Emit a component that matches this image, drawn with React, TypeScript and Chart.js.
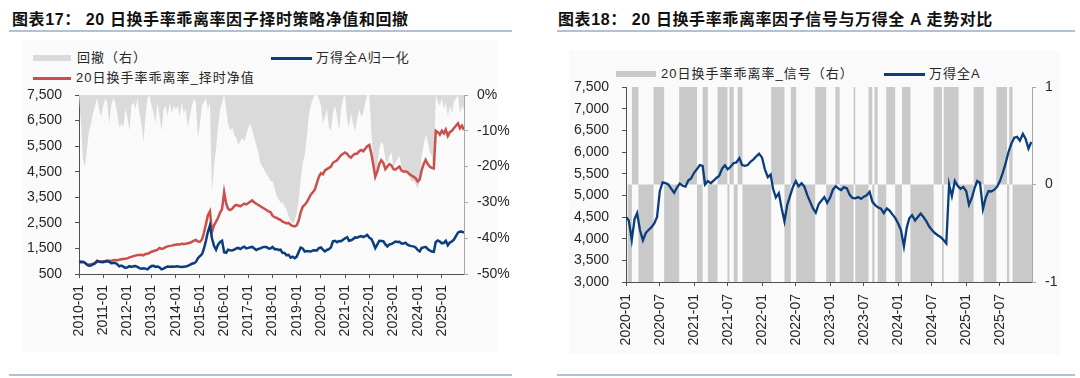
import React, { useEffect, useRef } from "react";
import { Chart, registerables } from "chart.js";
Chart.register(...registerables);

const FONT = "'Liberation Sans', 'Noto Sans CJK SC', Arial, sans-serif";
const BLUE = "#0a3d7e";
const RED = "#c9504b";
const DD_GRAY = "#dadada";
const SIG_GRAY = "#c9c9c9";
const AXIS_DARK = "#505050";
const AXIS_LIGHT = "#a8a8a8";
const TICK_COLOR = "#262626";
const RULE = "#b3c1d3";

// ---------- Left chart data (monthly, starting 2010-01) ----------
const leftStartYear = 2010;
const leftTickLabels = ["2010-01", "2011-01", "2012-01", "2013-01", "2014-01", "2015-01", "2016-01", "2017-01", "2018-01", "2019-01", "2020-01", "2021-01", "2022-01", "2023-01", "2024-01", "2025-01"];

const windANormalized = [
  1000, 960, 980, 940, 860, 820, 830, 880, 920, 1020, 980, 970,
  960, 990, 1000, 980, 920, 930, 930, 880, 800, 830, 790, 740,
  760, 810, 780, 800, 810, 780, 730, 710, 720, 710, 680, 760,
  810, 820, 780, 790, 760, 680, 710, 760, 790, 780, 790, 780,
  790, 800, 780, 770, 780, 790, 820, 860, 900, 920, 970, 1120,
  1200, 1280, 1480, 1800, 2150, 2400, 1900, 1600, 1450, 1650, 1750, 1800,
  1350, 1330, 1450, 1430, 1420, 1450, 1500, 1520, 1480, 1530, 1570, 1500,
  1520, 1550, 1560, 1500, 1440, 1480, 1500, 1540, 1560, 1560, 1500, 1500,
  1560, 1470, 1480, 1440, 1450, 1330, 1320, 1230, 1250, 1140, 1180, 1120,
  1180, 1370, 1530, 1500, 1380, 1400, 1390, 1380, 1420, 1430, 1420, 1510,
  1535, 1450, 1380, 1440, 1470, 1540, 1780, 1800, 1740, 1790, 1780, 1840,
  1900, 1940, 1800, 1820, 1860, 1930, 1920, 1960, 1980, 1940, 1980, 2030,
  1920, 1870, 1720, 1510, 1650, 1800, 1790, 1780, 1660, 1580, 1660, 1670,
  1720, 1770, 1750, 1760, 1690, 1690, 1720, 1650, 1610, 1590, 1580, 1540,
  1440, 1380, 1520, 1540, 1560, 1480, 1420, 1380, 1370, 1750, 1810, 1770,
  1700, 1720, 1800, 1620, 1730, 1770, 1840, 1980, 2120, 2160, 2150, 2120,
];

const strategyNav = [
  1000, 960, 980, 930, 880, 860, 880, 900, 930, 980, 1000, 990,
  1000, 1010, 1030, 1020, 1010, 1040, 1050, 1040, 1060, 1080, 1090, 1100,
  1110, 1150, 1170, 1200, 1220, 1240, 1240, 1250, 1230, 1280, 1290, 1330,
  1370, 1400, 1420, 1450, 1520, 1480, 1500, 1550, 1580, 1600, 1610, 1630,
  1640, 1660, 1650, 1680, 1670, 1680, 1700, 1720, 1760, 1800, 1830, 1770,
  1760, 1850, 2100, 2450, 2800, 2950, 2150, 2400, 2550, 2700, 2900, 3050,
  3700, 3250, 3050, 3000, 3050, 3150, 3200, 3180, 3150, 3200, 3250, 3220,
  3280, 3330, 3380, 3300, 3250, 3200, 3150, 3100, 3050, 3000, 2950, 2920,
  2780, 2720, 2700, 2650, 2620, 2550, 2520, 2480, 2500, 2420, 2380, 2360,
  2400, 2600, 2900, 3130, 3200, 3300, 3450, 3600, 3700, 3800, 4050, 4300,
  4440, 4400, 4550, 4600, 4650, 4700, 4850, 4900, 4950, 5050, 5150, 5200,
  5250, 5200, 5100, 5050, 5150, 5200, 5200, 5300, 5350, 5300, 5400, 5500,
  5550, 5200, 4800, 4300, 4500, 4800, 4950, 4850, 4600, 4700, 4800, 4750,
  4600, 4580, 4650, 4700, 4550, 4500, 4520, 4480, 4400, 4350, 4300, 4250,
  4120, 4200, 4550, 4800, 4960, 4800, 4700, 4650, 4630, 6100, 6050, 5950,
  6100, 6000, 6150, 5900, 6050, 6100, 6200, 6300, 6390, 6200, 6300, 6130,
];

const drawdownPct = [
  0, -8, -18, -20, -15, -10, -8, -5, -3, -1, -4, -6,
  -3, -1, -2, -8, -3, -1, -2, -5, -9, -8, -9, -4,
  -6, -10, -3, -2, -4, -1, -5, -8, -13, -6, -1, 0,
  -3, -5, -8, -2, -6, -10, -4, -3, -6, -2, -5, -3,
  -4, -3, -6, -2, -5, -4, -9, -6, -3, -1, -2, -12,
  -8, -3, -2, -1, -4, -2, -27, -20, -15, -9, -4, -2,
  0, -4, -8, -10, -9, -11, -12, -14, -13, -12, -13, -11,
  -9, -8, -10, -12, -14, -16, -19, -20, -21, -22, -23, -24,
  -24, -26, -28, -29, -30, -30, -31, -32, -34, -35, -36, -35,
  -33, -29, -24, -19, -17, -12, -6, -3, -1, 0, 0, -1,
  -3, -8, -6, -4, -9, -10, -5, -3, -6, -10, -4, -1,
  0, -7, -9, -5, -8, -10, -7, -4, -6, -5, -2, 0,
  0, -10, -18, -24, -20, -15, -13, -14, -18, -19, -17, -16,
  -20, -19, -18, -17, -20, -21, -22, -22, -23, -24, -24, -25,
  -26, -24, -17, -14, -11, -13, -16, -17, -21, 0, -2, -3,
  -1, -4, -2, -6, -3, -5, -2, -1, 0, -5, -3, -4,
];

// ---------- Right chart data (semi-monthly, starting 2020-01) ----------
const rightStartYear = 2020;
const rightTickLabels = ["2020-01", "2020-07", "2021-01", "2021-07", "2022-01", "2022-07", "2023-01", "2023-07", "2024-01", "2024-07", "2025-01", "2025-07"];

const windAIndex = [
  4500, 4420, 3970, 4450, 4590, 4200, 3960, 4130, 4200, 4260, 4350, 4500, 5100, 5300, 5280, 5250, 5150, 5060, 5180, 5270, 5220, 5200, 5340, 5390,
  5520, 5600, 5700, 5680, 5250, 5330, 5280, 5340, 5400, 5450, 5620, 5690, 5600, 5660, 5740, 5760, 5860, 5700, 5680, 5700, 5780, 5830, 5900, 5960,
  5870, 5600, 5420, 5480, 5150, 4950, 5050, 4700, 4400, 4780, 5000, 5200, 5330, 5210, 5280, 5200, 5000, 4850, 4700, 4600, 4800, 4880, 4960, 4830,
  4950, 5130, 5210, 5150, 5120, 5190, 5160, 5010, 4940, 4930, 4960, 4920, 4970, 5000, 5080, 4850, 4770, 4720, 4690, 4590, 4700, 4650, 4560, 4480,
  4350, 4200, 3820, 4250, 4470, 4540, 4420, 4500, 4580, 4500, 4400, 4280, 4200, 4130, 4080, 4040, 3970, 3890, 5250, 4980, 5330, 5220, 5150, 5190,
  5100, 4780, 4950, 5180, 5330, 5290, 4680, 4950, 5100, 5090, 5130, 5200, 5330, 5520, 5750, 6000, 6200, 6330, 6350, 6260, 6420, 6300, 6080, 6230,
];

const signalDates = [
  "2020-01-09", "2020-02-02", "2020-03-08", "2020-05-28", "2020-07-24", "2020-10-13",
  "2021-01-17", "2021-02-16", "2021-03-16", "2021-05-07", "2021-06-29", "2021-07-10",
  "2021-08-02", "2021-08-23", "2021-09-18", "2022-02-19", "2022-05-01", "2022-06-04",
  "2022-07-03", "2022-10-13", "2022-12-11", "2023-01-29", "2023-02-21", "2023-05-07",
  "2023-05-16", "2023-07-26", "2023-08-15", "2023-08-27", "2023-09-13", "2023-10-29",
  "2023-12-16", "2024-01-22", "2024-03-07", "2024-07-10", "2024-08-24", "2024-09-02",
  "2024-11-21", "2025-02-10", "2025-04-05", "2025-06-12", "2025-08-08", "2025-08-20",
  "2025-09-07",
];
const signalValues = [
  -1, 1, -1, 1, -1, 1,
  -1, 1, -1, 1, -1, 1,
  -1, 1, -1, 1, -1, 1,
  -1, 1, -1, 1, -1, 1,
  -1, 1, -1, 1, -1, 1,
  -1, 1, -1, 1, -1, 1,
  -1, 1, -1, 1, -1, 1,
  -1,
];
const signalEndDate = "2025-12-20";

// ---------- helpers ----------
function toYear(d: string): number {
  const parts = d.split("-").map(Number);
  const y = parts[0];
  const m = parts[1] || 1;
  const day = parts[2] || 1;
  const s = Date.UTC(y, 0, 1);
  const e = Date.UTC(y + 1, 0, 1);
  return y + (Date.UTC(y, m - 1, day) - s) / (e - s);
}
const monthDate = (startY: number, k: number) => `${startY + Math.floor(k / 12)}-${(k % 12) + 1}-1`;
const halfMonthDate = (startY: number, k: number) => {
  const m = Math.floor(k / 2);
  return `${startY + Math.floor(m / 12)}-${(m % 12) + 1}-${k % 2 ? 16 : 1}`;
};

const tickFont = { family: FONT, size: 14 };

function tickLabelFor(labels: string[]) {
  return (v: number) => {
    const found = labels.find((l) => Math.abs(toYear(l) - v) < 1e-6);
    return found ?? "";
  };
}

function xAxis(labels: string[], min: number, max: number, height: number, pad: number) {
  return {
    type: "linear",
    position: "bottom",
    min,
    max,
    afterBuildTicks: (s: any) => {
      s.ticks = labels.map((l) => ({ value: toYear(l) }));
    },
    afterFit: (s: any) => {
      s.height = height;
    },
    ticks: {
      callback: tickLabelFor(labels),
      minRotation: 90,
      maxRotation: 90,
      autoSkip: false,
      font: tickFont,
      color: TICK_COLOR,
      padding: pad,
    },
    grid: { drawOnChartArea: false, drawTicks: true, tickLength: 4, color: AXIS_DARK },
    border: { display: true, color: AXIS_DARK, width: 1 },
  };
}

function leftConfig(): any {
  const xs = windANormalized.map((_, k) => toYear(monthDate(leftStartYear, k)));
  const blue = windANormalized.map((v, k) => ({ x: xs[k], y: v }));
  const red = strategyNav.map((v, k) => ({ x: xs[k], y: v }));
  const dd = drawdownPct.map((v, k) => ({ x: xs[k], y: v }));
  return {
    type: "line",
    data: {
      datasets: [
        { label: "万得全A归一化", data: blue, yAxisID: "y", borderColor: BLUE, borderWidth: 2.5, pointRadius: 0, tension: 0, order: 0 },
        { label: "20日换手率乖离率_择时净值", data: red, yAxisID: "y", borderColor: RED, borderWidth: 2.5, pointRadius: 0, tension: 0, order: 1 },
        { label: "回撤（右）", data: dd, yAxisID: "y1", borderColor: "rgba(0,0,0,0)", borderWidth: 1, backgroundColor: DD_GRAY, fill: "origin", pointRadius: 0, tension: 0, order: 2 },
      ],
    },
    options: {
      responsive: false,
      animation: false,
      devicePixelRatio: 1,
      layout: { padding: { top: 95, left: 0, right: 20, bottom: 34 } },
      plugins: { legend: { display: false }, tooltip: { enabled: false } },
      scales: {
        x: xAxis(leftTickLabels, xs[0], xs[xs.length - 1], 70, 7),
        y: {
          position: "left",
          min: 500,
          max: 7500,
          afterFit: (s: any) => { s.width = 79; },
          ticks: { stepSize: 1000, font: tickFont, color: TICK_COLOR, padding: 13, callback: (v: number) => v.toLocaleString("en-US") },
          grid: { drawOnChartArea: false, drawTicks: true, tickLength: 4, color: AXIS_DARK },
          border: { display: true, color: AXIS_DARK, width: 1 },
        },
        y1: {
          position: "right",
          min: -50,
          max: 0,
          afterFit: (s: any) => { s.width = 56; },
          ticks: { stepSize: 10, font: tickFont, color: TICK_COLOR, padding: 9, callback: (v: number) => `${v}%` },
          grid: { drawOnChartArea: false, drawTicks: true, tickLength: 4, color: AXIS_LIGHT },
          border: { display: true, color: AXIS_LIGHT, width: 1 },
        },
      },
    },
  };
}

function rightConfig(): any {
  const idx = windAIndex.map((v, k) => ({ x: toYear(halfMonthDate(rightStartYear, k)), y: v }));
  const sig = signalDates.map((d, i) => ({ x: toYear(d), y: signalValues[i] }));
  sig.push({ x: toYear(signalEndDate), y: signalValues[signalValues.length - 1] });
  return {
    type: "line",
    data: {
      datasets: [
        { label: "万得全A", data: idx, yAxisID: "y", borderColor: BLUE, borderWidth: 2.3, pointRadius: 0, tension: 0, order: 0 },
        { label: "20日换手率乖离率_信号（右）", data: sig, yAxisID: "y1", stepped: true, borderColor: "rgba(0,0,0,0)", borderWidth: 1, backgroundColor: SIG_GRAY, fill: "origin", pointRadius: 0, order: 1 },
      ],
    },
    options: {
      responsive: false,
      animation: false,
      devicePixelRatio: 1,
      layout: { padding: { top: 87, left: 0, right: 8, bottom: 16 } },
      plugins: { legend: { display: false }, tooltip: { enabled: false } },
      scales: {
        x: xAxis(rightTickLabels, toYear("2020-01"), toYear(signalEndDate), 80, 8),
        y: {
          position: "left",
          min: 3000,
          max: 7500,
          afterFit: (s: any) => { s.width = 86; },
          ticks: { stepSize: 500, font: tickFont, color: TICK_COLOR, padding: 13, callback: (v: number) => v.toLocaleString("en-US") },
          grid: { drawOnChartArea: false, drawTicks: true, tickLength: 4, color: AXIS_DARK },
          border: { display: true, color: AXIS_DARK, width: 1 },
        },
        y1: {
          position: "right",
          min: -1,
          max: 1,
          afterFit: (s: any) => { s.width = 40; },
          ticks: { stepSize: 1, font: tickFont, color: TICK_COLOR, padding: 9 },
          grid: { drawOnChartArea: false, drawTicks: true, tickLength: 4, color: AXIS_LIGHT },
          border: { display: true, color: AXIS_LIGHT, width: 1 },
        },
      },
    },
  };
}

const abs = (left: number, top: number, extra: React.CSSProperties = {}): React.CSSProperties => ({
  position: "absolute",
  left,
  top,
  ...extra,
});

const titleStyle: React.CSSProperties = {
  fontFamily: FONT,
  fontWeight: 700,
  fontSize: 16,
  lineHeight: "20px",
  letterSpacing: 0.6,
  color: "#111",
  whiteSpace: "nowrap",
};
const legendText: React.CSSProperties = {
  fontFamily: FONT,
  fontSize: 13,
  lineHeight: "16px",
  letterSpacing: 1,
  color: "#262626",
  whiteSpace: "nowrap",
};

export default function App() {
  const leftRef = useRef<HTMLCanvasElement>(null);
  const rightRef = useRef<HTMLCanvasElement>(null);

  useEffect(() => {
    const c1 = new Chart(leftRef.current as HTMLCanvasElement, leftConfig());
    const c2 = new Chart(rightRef.current as HTMLCanvasElement, rightConfig());
    return () => {
      c1.destroy();
      c2.destroy();
    };
  }, []);

  return (
    <div style={{ position: "absolute", left: 0, top: 0, width: 1080, height: 378, background: "#fff", overflow: "hidden" }}>
      {/* faint panel backgrounds */}
      <div style={abs(23, 40, { width: 474, height: 312, background: "#fafafa" })} />
      <div style={abs(569, 50, { width: 491, height: 304, background: "#fafafa" })} />

      {/* titles and rules */}
      <div style={abs(12, 10, titleStyle)}>图表17： 20 日换手率乖离率因子择时策略净值和回撤</div>
      <div style={abs(558, 10, titleStyle)}>图表18： 20 日换手率乖离率因子信号与万得全 A 走势对比</div>
      <div style={abs(9, 30, { width: 503, height: 2, background: RULE })} />
      <div style={abs(557, 30, { width: 518, height: 2, background: RULE })} />
      <div style={abs(9, 374, { width: 503, height: 2, background: RULE })} />
      <div style={abs(557, 374, { width: 518, height: 2, background: RULE })} />

      {/* left legend */}
      <div style={abs(33, 55, { width: 38, height: 6, background: DD_GRAY })} />
      <div style={abs(77, 50, legendText)}>回撤（右）</div>
      <div style={abs(271, 57, { width: 41, height: 2.5, background: BLUE })} />
      <div style={abs(316, 50, legendText)}>万得全A归一化</div>
      <div style={abs(33, 77, { width: 38, height: 2.5, background: RED })} />
      <div style={abs(76, 70, legendText)}>20日换手率乖离率_择时净值</div>

      {/* right legend */}
      <div style={abs(616, 71, { width: 40, height: 6, background: SIG_GRAY })} />
      <div style={abs(661, 66, legendText)}>20日换手率乖离率_信号（右）</div>
      <div style={abs(884, 73, { width: 41, height: 2.5, background: BLUE })} />
      <div style={abs(929, 66, legendText)}>万得全A</div>

      <canvas ref={leftRef} width={540} height={378} style={abs(0, 0, { width: 540, height: 378 })} />
      <canvas ref={rightRef} width={540} height={378} style={abs(540, 0, { width: 540, height: 378 })} />
    </div>
  );
}
